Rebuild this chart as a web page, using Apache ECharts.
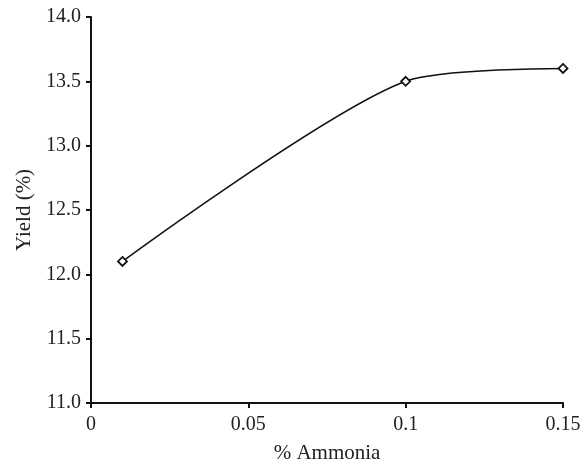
<!DOCTYPE html>
<html><head><meta charset="utf-8">
<script src="https://cdn.jsdelivr.net/npm/echarts@6/dist/echarts.min.js"></script>
<style>html,body{margin:0;padding:0;background:#fff}#c{width:585px;height:464px}</style>
</head><body><div id="c"></div>
<script>
const ammonia = [0.01, 0.1, 0.15];
const yieldPct = [12.1, 13.5, 13.6];
const xTicks = [0, 0.05, 0.1, 0.15];
const yTicks = [11.0, 11.5, 12.0, 12.5, 13.0, 13.5, 14.0];

const font = 'Liberation Serif, Times New Roman, serif';
const chart = echarts.init(document.getElementById('c'), null, {renderer: 'canvas'});
chart.setOption({
  animation: false,
  grid: {left: 91, right: 22, top: 17, bottom: 61, containLabel: false, outerBoundsMode: 'none'},
  xAxis: {
    type: 'value', min: 0, max: 0.15, interval: 0.05,
    name: '% Ammonia', nameLocation: 'middle', nameGap: 40,
    nameTextStyle: {fontFamily: font, fontSize: 21, color: '#222'},
    axisLine: {lineStyle: {color: '#111', width: 2}},
    axisTick: {show: true, length: 5, lineStyle: {color: '#111', width: 2}},
    axisLabel: {fontFamily: font, fontSize: 20, color: '#222', margin: 12,
      formatter: v => String(parseFloat(v.toFixed(2)))},
    splitLine: {show: false}
  },
  yAxis: {
    type: 'value', min: 11, max: 14, interval: 0.5,
    name: 'Yield (%)', nameLocation: 'middle', nameGap: 53, nameRotate: 90,
    nameTextStyle: {fontFamily: font, fontSize: 21, color: '#222'},
    axisLine: {show: true, lineStyle: {color: '#111', width: 2}},
    axisTick: {show: true, length: 5, lineStyle: {color: '#111', width: 2}},
    axisLabel: {fontFamily: font, fontSize: 20, color: '#222', margin: 10,
      formatter: v => v.toFixed(1)},
    splitLine: {show: false}
  },
  series: [{
    type: 'line',
    data: ammonia.map((x, i) => [x, yieldPct[i]]),
    smooth: 0.25,
    symbol: 'diamond', symbolSize: 9,
    itemStyle: {color: '#fff', borderColor: '#111', borderWidth: 1.8},
    lineStyle: {color: '#111', width: 1.6}
  }]
});
</script></body></html>
